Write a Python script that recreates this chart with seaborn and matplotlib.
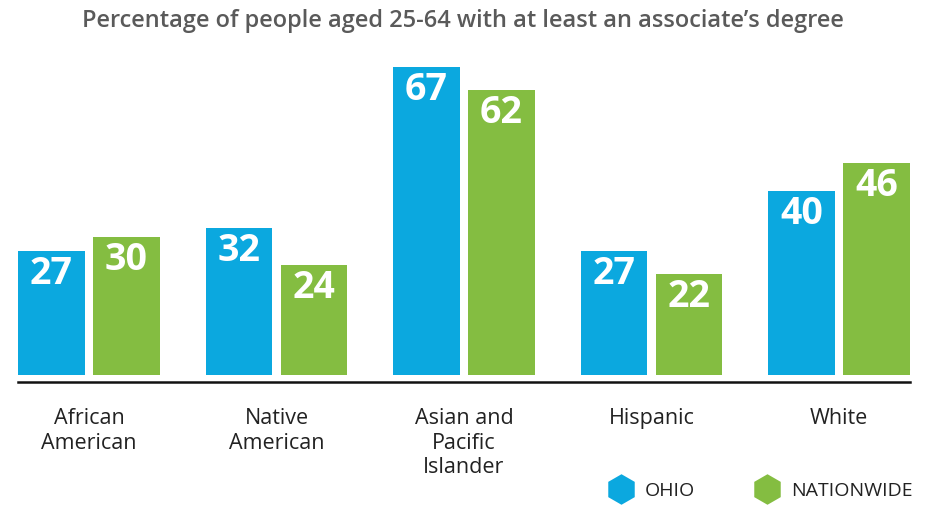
import matplotlib
matplotlib.use("Agg")
import matplotlib.pyplot as plt
from matplotlib.lines import Line2D
import seaborn as sns
import pandas as pd

categories = ["African\nAmerican", "Native\nAmerican", "Asian and\nPacific\nIslander", "Hispanic", "White"]
ohio = [27, 32, 67, 27, 40]
nationwide = [30, 24, 62, 22, 46]
series = ["OHIO", "NATIONWIDE"]
title = "Percentage of people aged 25-64 with at least an associate\u2019s degree"

BLUE = "#0BA8DF"
GREEN = "#84BD41"

df = pd.DataFrame({
    "category": categories * 2,
    "series": [series[0]] * len(categories) + [series[1]] * len(categories),
    "value": ohio + nationwide,
})

sns.set_theme(style="white")
plt.rcParams["font.family"] = ["Open Sans", "DejaVu Sans"]

fig = plt.figure(figsize=(9.26, 5.05), dpi=100)
ax = fig.add_axes([18 / 926, (505 - 382) / 505, 892 / 926, (382 - 43.8) / 505])

sns.barplot(data=df, x="category", y="value", hue="series", order=categories,
            hue_order=series, palette=[BLUE, GREEN], width=0.8, gap=0.107,
            saturation=1, legend=False, ax=ax, edgecolor="none")

ax.set_xlim(-0.3787, 4.3787)
ax.set_ylim(-1.52, 72)
ax.set_xlabel("")
ax.set_ylabel("")
ax.set_yticks([])
ax.tick_params(axis="x", length=0, pad=19, labelsize=15.5, labelcolor="#222222")
for lab in ax.get_xticklabels():
    lab.set_verticalalignment("top")
    lab.set_linespacing(1.2)
for s in ["top", "right", "left"]:
    ax.spines[s].set_visible(False)
ax.spines["bottom"].set_color("#111111")
ax.spines["bottom"].set_linewidth(1.8)

for container in ax.containers:
    for bar in container:
        h = bar.get_height()
        ax.text(bar.get_x() + bar.get_width() / 2, h - 5.0, f"{int(round(h))}",
                ha="center", va="center", color="white", fontsize=27,
                fontweight="bold")

fig.text(0.5, 0.958, title, ha="center", va="center", fontsize=17,
         color="#5a5a5a", fontweight="semibold")

handles = [Line2D([], [], marker="h", linestyle="none", markersize=22,
                  markerfacecolor=c, markeredgecolor="none") for c in (BLUE, GREEN)]
fig.legend(handles, series, loc="center right", bbox_to_anchor=(1.005, 0.028),
           ncol=2, frameon=False, fontsize=14, handletextpad=0.25,
           columnspacing=2.7, labelcolor="#222222")

fig.savefig("out.png", dpi=100)
